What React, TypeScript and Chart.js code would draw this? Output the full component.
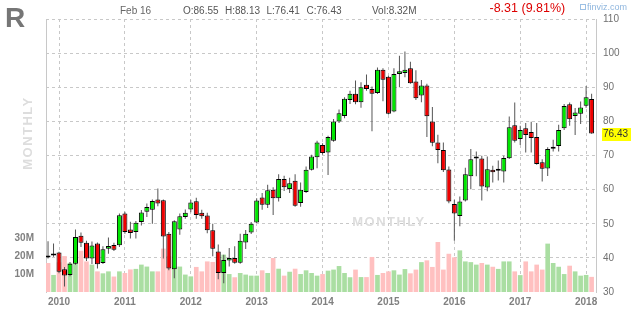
import React, { useEffect, useRef } from "react";
import { Chart, registerables } from "chart.js";

Chart.register(...registerables);

const FONT = "'Liberation Sans', Arial, Helvetica, sans-serif";

const months: string[] = [
  "Nov 2009", "Dec 2009",
  "Jan 2010", "Feb 2010", "Mar 2010", "Apr 2010", "May 2010", "Jun 2010", "Jul 2010", "Aug 2010", "Sep 2010", "Oct 2010", "Nov 2010", "Dec 2010",
  "Jan 2011", "Feb 2011", "Mar 2011", "Apr 2011", "May 2011", "Jun 2011", "Jul 2011", "Aug 2011", "Sep 2011", "Oct 2011", "Nov 2011", "Dec 2011",
  "Jan 2012", "Feb 2012", "Mar 2012", "Apr 2012", "May 2012", "Jun 2012", "Jul 2012", "Aug 2012", "Sep 2012", "Oct 2012", "Nov 2012", "Dec 2012",
  "Jan 2013", "Feb 2013", "Mar 2013", "Apr 2013", "May 2013", "Jun 2013", "Jul 2013", "Aug 2013", "Sep 2013", "Oct 2013", "Nov 2013", "Dec 2013",
  "Jan 2014", "Feb 2014", "Mar 2014", "Apr 2014", "May 2014", "Jun 2014", "Jul 2014", "Aug 2014", "Sep 2014", "Oct 2014", "Nov 2014", "Dec 2014",
  "Jan 2015", "Feb 2015", "Mar 2015", "Apr 2015", "May 2015", "Jun 2015", "Jul 2015", "Aug 2015", "Sep 2015", "Oct 2015", "Nov 2015", "Dec 2015",
  "Jan 2016", "Feb 2016", "Mar 2016", "Apr 2016", "May 2016", "Jun 2016", "Jul 2016", "Aug 2016", "Sep 2016", "Oct 2016", "Nov 2016", "Dec 2016",
  "Jan 2017", "Feb 2017", "Mar 2017", "Apr 2017", "May 2017", "Jun 2017", "Jul 2017", "Aug 2017", "Sep 2017", "Oct 2017", "Nov 2017", "Dec 2017",
  "Jan 2018", "Feb 2018",
];

const open: number[] = [
  40.5, 40.7, 41.6, 36.7, 35.0, 38.3, 46.5, 44.4, 39.8, 44.2,
  38.5, 42.7, 43.8, 43.7, 53.0, 48.3, 47.6, 50.5, 53.5, 54.1,
  57.1, 56.9, 47.1, 36.7, 48.3, 52.0, 54.2, 56.6, 53.2, 52.4,
  48.1, 41.9, 35.6, 39.2, 40.0, 38.6, 44.5, 47.4, 50.4, 57.7,
  55.6, 60.0, 57.5, 63.1, 60.2, 62.6, 56.1, 59.3, 65.8, 69.5,
  73.1, 70.9, 74.3, 80.0, 81.6, 86.3, 88.1, 85.6, 90.7, 89.5,
  88.3, 95.1, 93.1, 82.9, 93.9, 94.2, 95.6, 91.7, 87.6, 90.5,
  80.0, 73.8, 71.6, 65.9, 55.8, 52.3, 56.8, 63.9, 69.1, 69.1,
  60.6, 65.8, 65.5, 65.3, 69.2, 78.9, 74.8, 78.0, 76.9, 75.4,
  68.0, 66.2, 72.0, 72.8, 78.0, 85.0, 81.6, 82.2, 84.6, 86.55,
];

const high: number[] = [
  44.9, 44.2, 41.8, 37.3, 38.8, 48.3, 47.4, 45.0, 44.8, 44.5,
  43.4, 46.0, 44.4, 53.0, 53.5, 50.6, 50.8, 54.0, 55.9, 57.1,
  60.3, 57.1, 47.6, 51.0, 53.0, 54.2, 57.0, 57.6, 54.1, 53.2,
  50.0, 43.9, 40.9, 42.9, 43.4, 47.1, 48.2, 50.5, 57.5, 59.0,
  61.4, 60.7, 64.5, 64.1, 63.5, 64.5, 62.1, 66.8, 70.2, 74.3,
  73.6, 75.8, 80.7, 83.5, 87.1, 89.0, 92.0, 91.5, 93.7, 90.2,
  95.8, 95.6, 93.4, 95.6, 99.2, 100.5, 97.5, 95.0, 92.1, 91.0,
  84.2, 76.1, 73.8, 66.8, 57.0, 58.0, 66.4, 71.9, 71.2, 69.9,
  69.7, 67.0, 68.5, 69.9, 81.4, 85.5, 78.7, 79.5, 79.9, 79.5,
  68.9, 72.4, 74.6, 79.0, 85.1, 85.5, 83.9, 85.8, 90.4, 88.13,
];

const low: number[] = [
  39.8, 40.3, 35.5, 31.6, 34.6, 38.0, 43.2, 39.1, 38.2, 36.9,
  38.2, 41.2, 42.0, 43.2, 47.1, 45.7, 45.7, 49.5, 52.0, 50.0,
  55.1, 39.8, 36.4, 34.0, 46.8, 51.5, 53.4, 51.5, 51.5, 47.2,
  40.5, 33.7, 32.6, 37.5, 38.3, 38.3, 42.6, 47.0, 50.2, 54.1,
  54.6, 52.6, 56.5, 59.6, 59.0, 55.0, 55.0, 59.0, 65.6, 66.3,
  70.2, 64.3, 74.0, 79.5, 80.9, 85.1, 85.0, 84.0, 89.0, 77.1,
  88.0, 85.9, 82.0, 82.7, 90.0, 92.9, 91.0, 86.3, 85.6, 75.4,
  72.7, 67.7, 65.2, 56.0, 45.0, 49.3, 56.5, 60.1, 63.9, 56.8,
  59.5, 62.1, 62.7, 62.1, 69.0, 73.8, 73.1, 70.9, 70.9, 67.3,
  62.4, 64.0, 71.2, 71.2, 77.5, 78.7, 76.0, 79.2, 84.0, 76.41,
];

const close: number[] = [
  40.1, 41.0, 35.9, 34.8, 38.3, 46.1, 44.4, 39.8, 43.6, 38.1,
  42.5, 43.5, 42.4, 52.5, 47.6, 47.3, 50.3, 53.3, 54.9, 56.7,
  55.9, 46.3, 36.9, 50.7, 52.2, 53.2, 56.2, 52.6, 52.2, 48.1,
  42.7, 35.6, 39.4, 40.0, 38.6, 45.0, 47.1, 50.0, 56.8, 55.6,
  59.8, 57.5, 63.1, 60.7, 61.9, 55.3, 60.0, 65.8, 69.7, 73.8,
  70.7, 75.4, 80.0, 82.4, 86.6, 88.1, 85.6, 90.0, 89.5, 88.1,
  95.1, 92.2, 82.2, 93.9, 94.7, 95.1, 91.2, 86.8, 90.5, 81.5,
  73.7, 71.6, 65.7, 56.5, 53.0, 56.5, 64.5, 68.9, 69.7, 60.9,
  66.0, 65.1, 66.0, 69.3, 78.3, 74.3, 77.5, 76.0, 75.1, 67.5,
  66.1, 71.9, 72.6, 77.5, 84.5, 80.6, 82.6, 84.1, 87.1, 76.43,
];

// volume in millions
const volume: number[] = [
  16.1, 9.4, 16.5, 20.0, 16.2, 16.5, 23.0, 17.0, 15.2, 11.4,
  10.3, 11.4, 8.5, 11.4, 10.5, 12.5, 12.8, 15.2, 14.1, 11.4,
  11.4, 24.2, 19.9, 14.1, 14.1, 9.6, 8.6, 13.9, 11.4, 17.0,
  16.7, 18.0, 20.8, 9.9, 8.1, 10.5, 9.6, 9.0, 9.0, 12.0,
  10.5, 18.9, 12.9, 9.0, 11.2, 12.9, 9.9, 12.0, 10.5, 9.0,
  9.9, 11.8, 12.4, 14.4, 10.5, 8.1, 12.4, 8.2, 8.2, 19.5,
  9.4, 10.5, 11.4, 12.0, 9.6, 12.7, 10.3, 12.4, 16.6, 17.6,
  13.9, 27.9, 12.4, 21.3, 19.3, 23.2, 17.0, 16.6, 15.2, 16.1,
  15.2, 14.0, 12.8, 17.0, 17.0, 11.4, 9.3, 17.0, 11.4, 15.2,
  12.4, 27.0, 16.1, 14.0, 9.9, 14.6, 11.4, 9.0, 9.4, 8.32,
];

const yearLabels: string[] = ["2010", "2011", "2012", "2013", "2014", "2015", "2016", "2017", "2018"];
const volumeTicks: number[] = [10, 20, 30];

const ticker = "R";
const lastDate = "Feb 16";
const lastVolume = "8.32M";
const change = "-8.31 (9.81%)";

const UP = "#00e600";
const DOWN = "#ee0000";
const UP_VOL = "#aadea2";
const DOWN_VOL = "#ffc0c0";
const GRID = "#c8c8c8";

const yearTickIdx = yearLabels.map((y) => months.indexOf("Jan " + y));

const overlayPlugin = {
  id: "overlay",
  beforeDatasetsDraw(chart: any) {
    const { ctx } = chart;
    ctx.save();
    ctx.font = `bold 13px ${FONT}`;
    ctx.fillStyle = "#dddddd";
    try { (ctx as any).letterSpacing = "1.5px"; } catch (e) {}
    ctx.textAlign = "center";
    ctx.textBaseline = "middle";
    ctx.fillText("MONTHLY", 389, 222);
    ctx.translate(28, 133);
    ctx.rotate(-Math.PI / 2);
    ctx.fillText("MONTHLY", 0, 0);
    ctx.restore();
  },
  afterDraw(chart: any) {
    const { ctx, chartArea } = chart;
    const last = close[close.length - 1];
    const y = chart.scales.y.getPixelForValue(last);
    ctx.save();
    ctx.fillStyle = "#ffff00";
    ctx.fillRect(chartArea.right + 6, Math.round(y) - 6, 29, 13);
    ctx.fillStyle = "#333333";
    ctx.font = `10px ${FONT}`;
    ctx.textAlign = "left";
    ctx.textBaseline = "middle";
    ctx.fillText(last.toFixed(2), chartArea.right + 7, Math.round(y) + 0.5);
    ctx.restore();
  },
};

export default function App() {
  const ref = useRef<HTMLCanvasElement>(null);

  useEffect(() => {
    if (!ref.current) return;
    const bodyColors = months.map((_, i) => (close[i] >= open[i] ? UP : DOWN));
    const volColors = months.map((_, i) => (close[i] >= open[i] ? UP_VOL : DOWN_VOL));

    const chart = new Chart(ref.current, {
      type: "bar",
      data: {
        datasets: [
          {
            label: "Body",
            data: months.map((_, i) => ({ x: i, y: [open[i], close[i]] })) as any,
            backgroundColor: bodyColors,
            borderColor: "#000000",
            borderWidth: 1,
            borderSkipped: false,
            barThickness: 5,
            minBarLength: 2,
            inflateAmount: 0,
            yAxisID: "y",
            order: 1,
            grouped: false,
          } as any,
          {
            label: "Wick",
            data: months.map((_, i) => ({ x: i, y: [low[i], high[i]] })) as any,
            backgroundColor: "#555555",
            borderWidth: 0,
            barThickness: 1,
            inflateAmount: 0,
            yAxisID: "y",
            order: 2,
            grouped: false,
          } as any,
          {
            label: "Volume",
            data: months.map((_, i) => ({ x: i, y: volume[i] })) as any,
            backgroundColor: volColors,
            borderWidth: 0,
            barThickness: 4,
            yAxisID: "yv",
            order: 3,
            grouped: false,
          } as any,
        ],
      },
      options: {
        responsive: false,
        animation: false,
        devicePixelRatio: 1,
        layout: { padding: { top: 19, left: 0, right: 0, bottom: 0 } },
        plugins: { legend: { display: false }, tooltip: { enabled: false } },
        scales: {
          x: {
            type: "linear",
            min: -0.37,
            max: 99.8,
            offset: false,
            grid: { color: GRID, offset: false, drawTicks: false, borderDash: [3, 3] } as any,
            border: { display: false, dash: [3, 3] },
            afterBuildTicks: (scale: any) => {
              scale.ticks = yearTickIdx.map((v) => ({ value: v }));
            },
            afterFit: (scale: any) => {
              scale.height = 19;
            },
            ticks: {
              padding: 4,
              autoSkip: false,
              maxRotation: 0,
              color: "#808080",
              font: { family: FONT, size: 10, weight: "bold" },
              callback: (v: any) => {
                const k = yearTickIdx.indexOf(Number(v));
                return k >= 0 ? yearLabels[k] : "";
              },
            },
          },
          y: {
            type: "linear",
            position: "right",
            min: 30,
            max: 110,
            grid: {
              color: (c: any) => (c.tick && c.tick.value === 30 ? "rgba(0,0,0,0)" : GRID),
              drawTicks: false,
              borderDash: [3, 3],
            } as any,
            border: { display: true, dash: [3, 3], color: GRID },
            afterFit: (scale: any) => {
              scale.width = 44;
            },
            ticks: {
              stepSize: 10,
              padding: 7,
              color: "#707070",
              font: { family: FONT, size: 10 },
            },
          },
          yv: {
            type: "linear",
            position: "left",
            min: 0,
            max: 153.4,
            grid: { display: false, drawTicks: false },
            border: { display: true, dash: [3, 3], color: GRID },
            afterBuildTicks: (scale: any) => {
              scale.ticks = volumeTicks.map((v) => ({ value: v }));
            },
            afterFit: (scale: any) => {
              scale.width = 46;
            },
            ticks: {
              padding: 12,
              color: "#808080",
              font: { family: FONT, size: 10, weight: "bold" },
              callback: (v: any) => `${v}M`,
            },
          },
        },
      },
      plugins: [overlayPlugin],
    } as any);

    return () => chart.destroy();
  }, []);

  const txt = (extra: React.CSSProperties): React.CSSProperties => ({
    position: "absolute",
    whiteSpace: "nowrap",
    lineHeight: 1,
    fontFamily: FONT,
    ...extra,
  });

  return (
    <div
      style={{
        position: "absolute",
        left: 0,
        top: 0,
        width: 640,
        height: 311,
        background: "#ffffff",
        overflow: "hidden",
      }}
    >
      <canvas
        ref={ref}
        width={640}
        height={311}
        style={{ position: "absolute", left: 0, top: 0, width: 640, height: 311 }}
      />
      <div style={txt({ left: 5, top: 3.5, fontSize: 28, fontWeight: "bold", color: "#767676" })}>{ticker}</div>
      <div style={txt({ left: 120, top: 5.5, fontSize: 10, color: "#666666" })}>{lastDate}</div>
      <div style={txt({ left: 183, top: 5.5, fontSize: 10, color: "#555555" })}>O:{open[open.length - 1].toFixed(2)}</div>
      <div style={txt({ left: 225, top: 5.5, fontSize: 10, color: "#555555" })}>H:{high[high.length - 1].toFixed(2)}</div>
      <div style={txt({ left: 266.5, top: 5.5, fontSize: 10, color: "#555555" })}>L:{low[low.length - 1].toFixed(2)}</div>
      <div style={txt({ left: 306.5, top: 5.5, fontSize: 10, color: "#555555" })}>C:{close[close.length - 1].toFixed(2)}</div>
      <div style={txt({ left: 372, top: 5.5, fontSize: 10, color: "#555555" })}>Vol:{lastVolume}</div>
      <div style={txt({ left: 489.5, top: 1.8, fontSize: 12.5, color: "#dd0000" })}>{change}</div>
      <div
        style={{
          position: "absolute",
          left: 580,
          top: 4,
          width: 4,
          height: 4,
          border: "1px solid #9cc0e4",
        }}
      />
      <div style={txt({ left: 587, top: 2.5, fontSize: 9, color: "#8fb6de" })}>finviz.com</div>
    </div>
  );
}
